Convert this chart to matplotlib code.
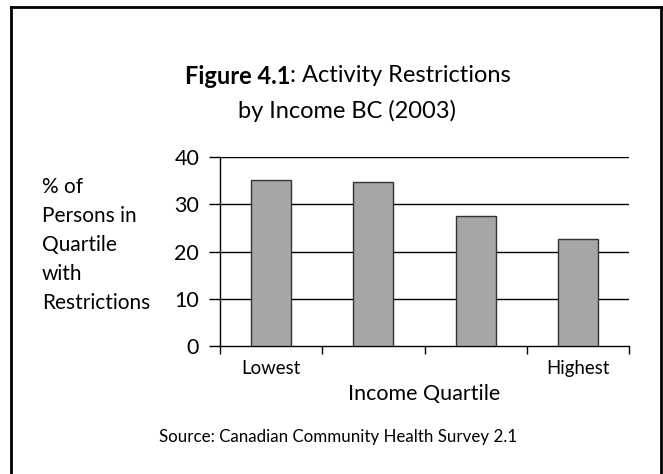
import matplotlib
matplotlib.use("Agg")
import matplotlib.pyplot as plt
from matplotlib.lines import Line2D

plt.rcParams['font.family'] = ['Lato', 'DejaVu Sans']

quartiles = ["Lowest", "", "", "Highest"]
pct_restricted = [35.2, 34.8, 27.6, 22.6]
y_ticks = [0, 10, 20, 30, 40]

fig = plt.figure(figsize=(6.63, 4.74), dpi=100)

# frame around the figure (left, top, right edges)
W, H = 663, 474
fig.add_artist(Line2D([11 / W, 11 / W], [0, 1 - 7 / H], color="black", lw=2))
fig.add_artist(Line2D([11 / W, 661 / W], [1 - 7 / H, 1 - 7 / H], color="black", lw=2))
fig.add_artist(Line2D([661 / W, 661 / W], [0, 1 - 7 / H], color="black", lw=2))

ax = fig.add_axes([220 / W, 1 - 346 / H, (629 - 220) / W, (346 - 157) / H])

x = range(len(pct_restricted))
ax.bar(x, pct_restricted, width=0.39, color="#a6a6a6", edgecolor="#333333",
       linewidth=1.0, zorder=3)

ax.set_ylim(0, 40)
ax.set_xlim(-0.5, len(pct_restricted) - 0.5)
ax.set_yticks(y_ticks)
ax.tick_params(axis="y", length=8, width=1, labelsize=15.5, pad=7)
for v in y_ticks[1:]:
    ax.axhline(v, color="black", lw=1, zorder=1)

# category labels centred under bars, ticks between categories
ax.set_xticks([i - 0.5 for i in range(len(quartiles) + 1)])
ax.set_xticklabels([])
ax.set_xticks(list(x), minor=True)
ax.set_xticklabels(quartiles, minor=True, fontsize=13.4)
ax.tick_params(axis="x", which="major", length=6, width=1)
ax.tick_params(axis="x", which="minor", length=0, pad=10)

for s in ["top", "right"]:
    ax.spines[s].set_visible(False)
ax.spines["left"].set_linewidth(1)
ax.spines["bottom"].set_linewidth(1)

ax.set_xlabel("Income Quartile", fontsize=15.5, labelpad=5)

fig.text(42 / W, 1 - 245 / H, "% of\nPersons in\nQuartile\nwith\nRestrictions",
         fontsize=15, ha="left", va="center", linespacing=1.56)

# two-part title: bold figure number followed by regular text
fig.canvas.draw()
r = fig.canvas.get_renderer()
t1 = fig.text(0, 1 - 76 / H, "Figure 4.1", fontsize=17, fontweight="bold", va="center")
t2 = fig.text(0, 1 - 76 / H, ": Activity Restrictions", fontsize=17, va="center")
w1 = t1.get_window_extent(r).width / W
w2 = t2.get_window_extent(r).width / W
x0 = 348 / W - (w1 + w2) / 2
t1.set_x(x0)
t2.set_x(x0 + w1)
fig.text(347 / W, 1 - 111 / H, "by Income BC (2003)", fontsize=17, ha="center", va="center")

fig.text(338 / W, 1 - 437 / H, "Source: Canadian Community Health Survey 2.1",
         fontsize=12.2, ha="center", va="center")

fig.savefig("out.png", dpi=100)
